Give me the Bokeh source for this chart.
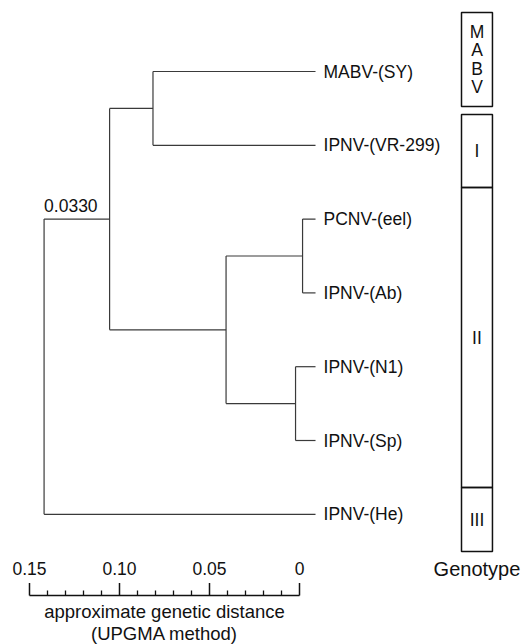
from bokeh.plotting import figure
from bokeh.models import Range1d
from bokeh.embed import file_html
from bokeh.resources import INLINE
from bokeh.core.properties import value

# ---------------- data ----------------
leaves = ["MABV-(SY)", "IPNV-(VR-299)", "PCNV-(eel)", "IPNV-(Ab)",
          "IPNV-(N1)", "IPNV-(Sp)", "IPNV-(He)"]
node_names = ["A", "C", "D", "E", "B", "root"]
node_left = ["MABV-(SY)", "PCNV-(eel)", "IPNV-(N1)", "C", "A", "B"]
node_right = ["IPNV-(VR-299)", "IPNV-(Ab)", "IPNV-(Sp)", "D", "E", "IPNV-(He)"]
node_height = [0.0903, 0.0072, 0.0111, 0.0497, 0.1144, 0.1508]
root_label = "0.0330"

scale_major = [0.15, 0.10, 0.05, 0.0]
scale_major_labels = ["0.15", "0.10", "0.05", "0"]
scale_minor = [0.14, 0.13, 0.12, 0.11, 0.09, 0.08, 0.07, 0.06,
               0.04, 0.03, 0.02, 0.01]
axis_title = ["approximate genetic distance", "(UPGMA method)"]

genotypes = ["MABV", "I", "II", "III"]
genotype_title = "Genotype"

# ---------------- layout constants ----------------
FONT = "Liberation Sans"
TIP_D = -0.0089            # x of leaf tips (distance units)
LEAF_Y0, LEAF_STEP = 71.0, 73.8
BOX_L, BOX_R = -0.0900, -0.1072
BOX_Y = [(12, 106), (114, 187), (187, 487), (487, 551)]
TREE_COLOR = "#3a3a3a"
TEXT_COLOR = "#111111"

p = figure(width=528, height=644, output_backend="svg", toolbar_location=None,
           x_range=Range1d(0.16611, -0.12722), y_range=Range1d(644, 0),
           min_border=0)
p.axis.visible = False
p.grid.visible = False
p.outline_line_color = None
p.background_fill_color = "white"
p.border_fill_color = "white"

# node positions
pos = {}
for i, name in enumerate(leaves):
    pos[name] = (TIP_D, LEAF_Y0 + LEAF_STEP * i)
for n, l, r, h in zip(node_names, node_left, node_right, node_height):
    pos[n] = (TIP_D + h, (pos[l][1] + pos[r][1]) / 2.0)

x0, y0, x1, y1 = [], [], [], []
for n, l, r in zip(node_names, node_left, node_right):
    nx, _ = pos[n]
    ly, ry = pos[l][1], pos[r][1]
    x0.append(nx); y0.append(ly); x1.append(nx); y1.append(ry)
    for c in (l, r):
        x0.append(nx); y0.append(pos[c][1]); x1.append(pos[c][0]); y1.append(pos[c][1])
p.segment(x0=x0, y0=y0, x1=x1, y1=y1, line_color=TREE_COLOR, line_width=1.2)

# leaf labels
p.text(x=[pos[l][0] for l in leaves], y=[pos[l][1] for l in leaves], text=leaves,
       x_offset=8, text_align="left", text_baseline="middle",
       text_font=value(FONT), text_font_size="17.5px", text_color=TEXT_COLOR)

# root label
p.text(x=[pos["root"][0]], y=[pos["B"][1]], text=[root_label], y_offset=-14,
       text_align="left", text_baseline="middle",
       text_font=value(FONT), text_font_size="17.5px", text_color=TEXT_COLOR)

# scale bar
BAR_Y, MAJ_TOP, MIN_TOP = 595, 582.5, 590
p.segment(x0=[scale_major[0]], y0=[BAR_Y], x1=[scale_major[-1]], y1=[BAR_Y],
          line_color="#111111", line_width=1.5)
p.segment(x0=scale_major, y0=[BAR_Y] * 4, x1=scale_major, y1=[MAJ_TOP] * 4,
          line_color="#111111", line_width=1.5)
p.segment(x0=scale_minor, y0=[BAR_Y] * len(scale_minor), x1=scale_minor,
          y1=[MIN_TOP] * len(scale_minor), line_color="#111111", line_width=1.3)
p.text(x=scale_major, y=[568] * 4, text=scale_major_labels, text_align="center",
       text_baseline="middle", text_font=value(FONT), text_font_size="17.5px",
       text_color=TEXT_COLOR)
mid = (scale_major[0] + scale_major[-1]) / 2.0
p.text(x=[mid, mid], y=[611, 633], text=axis_title, text_align="center",
       text_baseline="middle", text_font=value(FONT), text_font_size="18.5px",
       text_color=TEXT_COLOR)

# genotype boxes
p.quad(left=[BOX_L] * 4, right=[BOX_R] * 4, top=[b[0] for b in BOX_Y],
       bottom=[b[1] for b in BOX_Y], fill_color=None, line_color="#111111",
       line_width=1.5)
bx = (BOX_L + BOX_R) / 2.0
lx, ly, lt = [], [], []
for g, (t, b) in zip(genotypes, BOX_Y):
    c = (t + b) / 2.0
    if len(g) > 3:
        for k, ch in enumerate(g):
            lx.append(bx); ly.append(c + (k - (len(g) - 1) / 2.0) * 18.3); lt.append(ch)
    else:
        lx.append(bx); ly.append(c); lt.append(g)
p.text(x=lx, y=ly, text=lt, text_align="center", text_baseline="middle",
       text_font=value(FONT), text_font_size="17.5px", text_color=TEXT_COLOR)
p.text(x=[bx], y=[568], text=[genotype_title], text_align="center",
       text_baseline="middle", text_font=value(FONT), text_font_size="20px",
       text_color=TEXT_COLOR)

open("out.html", "w").write(file_html(p, INLINE))
